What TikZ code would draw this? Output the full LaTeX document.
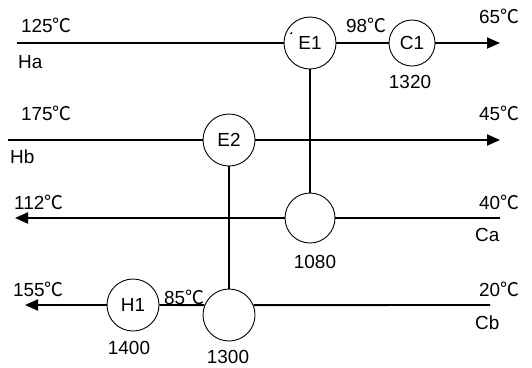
\documentclass[tikz,border=0pt]{standalone}
\usepackage{fontspec}
\setmainfont{Liberation Sans}
\newfontfamily\cjk{Noto Sans CJK SC}
\usetikzlibrary{arrows.meta}
\newcommand{\degc}{{\cjk ℃}}
\tikzset{
  stream/.style={line width=1.9bp},
  flowarrow/.style={stream,-{Triangle[length=13bp,width=11bp]}},
  hx/.style={circle,draw,line width=0.9bp,minimum size=52bp,inner sep=0pt,font=\fontsize{19}{21}\selectfont},
  hxs/.style={hx,minimum size=46bp},
  lbl/.style={inner sep=0pt,font=\fontsize{19}{21}\selectfont},
  tlbl/.style={lbl,anchor=west},
}
\begin{document}
\begin{tikzpicture}[x=1bp,y=-1bp]
\useasboundingbox (0,0) rectangle (532,367);
% exchangers
\node[hx] (E1) at (310,43) {E1};
\node[hxs] (C1) at (412,43) {C1};
\node[hx] (E2) at (229,140) {E2};
\node[hx,minimum size=50bp] (EC) at (310,218) {};
\node[hx] (H1) at (133,305) {H1};
\node[hx] (ED) at (229,315) {};
% stream ends
\coordinate (haS) at (17,43);
\coordinate (haE) at (500,43);
\coordinate (hbS) at (8,140);
\coordinate (hbE) at (500,140);
\coordinate (caS) at (500,218);
\coordinate (caE) at (15,218);
\coordinate (cbS) at (490,305);
\coordinate (cbE) at (25,305);
% hot streams
\draw[stream] (haS) -- (E1.west);
\draw[stream] (E1.east) -- (C1.west);
\draw[flowarrow] (C1.east) -- (haE);
\draw[stream] (hbS) -- (E2.west);
\draw[flowarrow] (E2.east) -- (hbE);
% cold streams
\draw[stream] (caS) -- (EC.east);
\draw[flowarrow] (EC.west) -- (caE);
\draw[stream] (cbS) -- (ED.22);
\draw[stream] (ED.158) -- (H1.east);
\draw[flowarrow] (H1.west) -- (cbE);
% matches
\draw[stream] (E1.south) -- (EC.north);
\draw[stream] (E2.south) -- (ED.north);
% small tick on E1
\draw[line width=1.2bp] (290.5,34) -- (292,32.5);
% labels
\node[tlbl] (t1) at (21,25) {125\degc};
\node[tlbl] (t2) at (18,62) {Ha};
\node[tlbl] (t3) at (346,25) {98\degc};
\node[tlbl] (t4) at (479,16) {65\degc};
\node[lbl] (t5) at (410,82) {1320};
\node[tlbl] (t6) at (21,113) {175\degc};
\node[tlbl] (t7) at (479,113) {45\degc};
\node[tlbl] (t8) at (10,157) {Hb};
\node[tlbl] (t9) at (14,202) {112\degc};
\node[tlbl] (t10) at (479,202) {40\degc};
\node[tlbl] (t11) at (475,235) {Ca};
\node[lbl] (t12) at (315,262) {1080};
\node[tlbl] (t13) at (13,289) {155\degc};
\node[tlbl] (t14) at (164,297) {85\degc};
\node[tlbl] (t15) at (479,289) {20\degc};
\node[tlbl] (t16) at (475,323) {Cb};
\node[lbl] (t17) at (129,348) {1400};
\node[lbl] (t18) at (228,357) {1300};
\end{tikzpicture}
\end{document}
